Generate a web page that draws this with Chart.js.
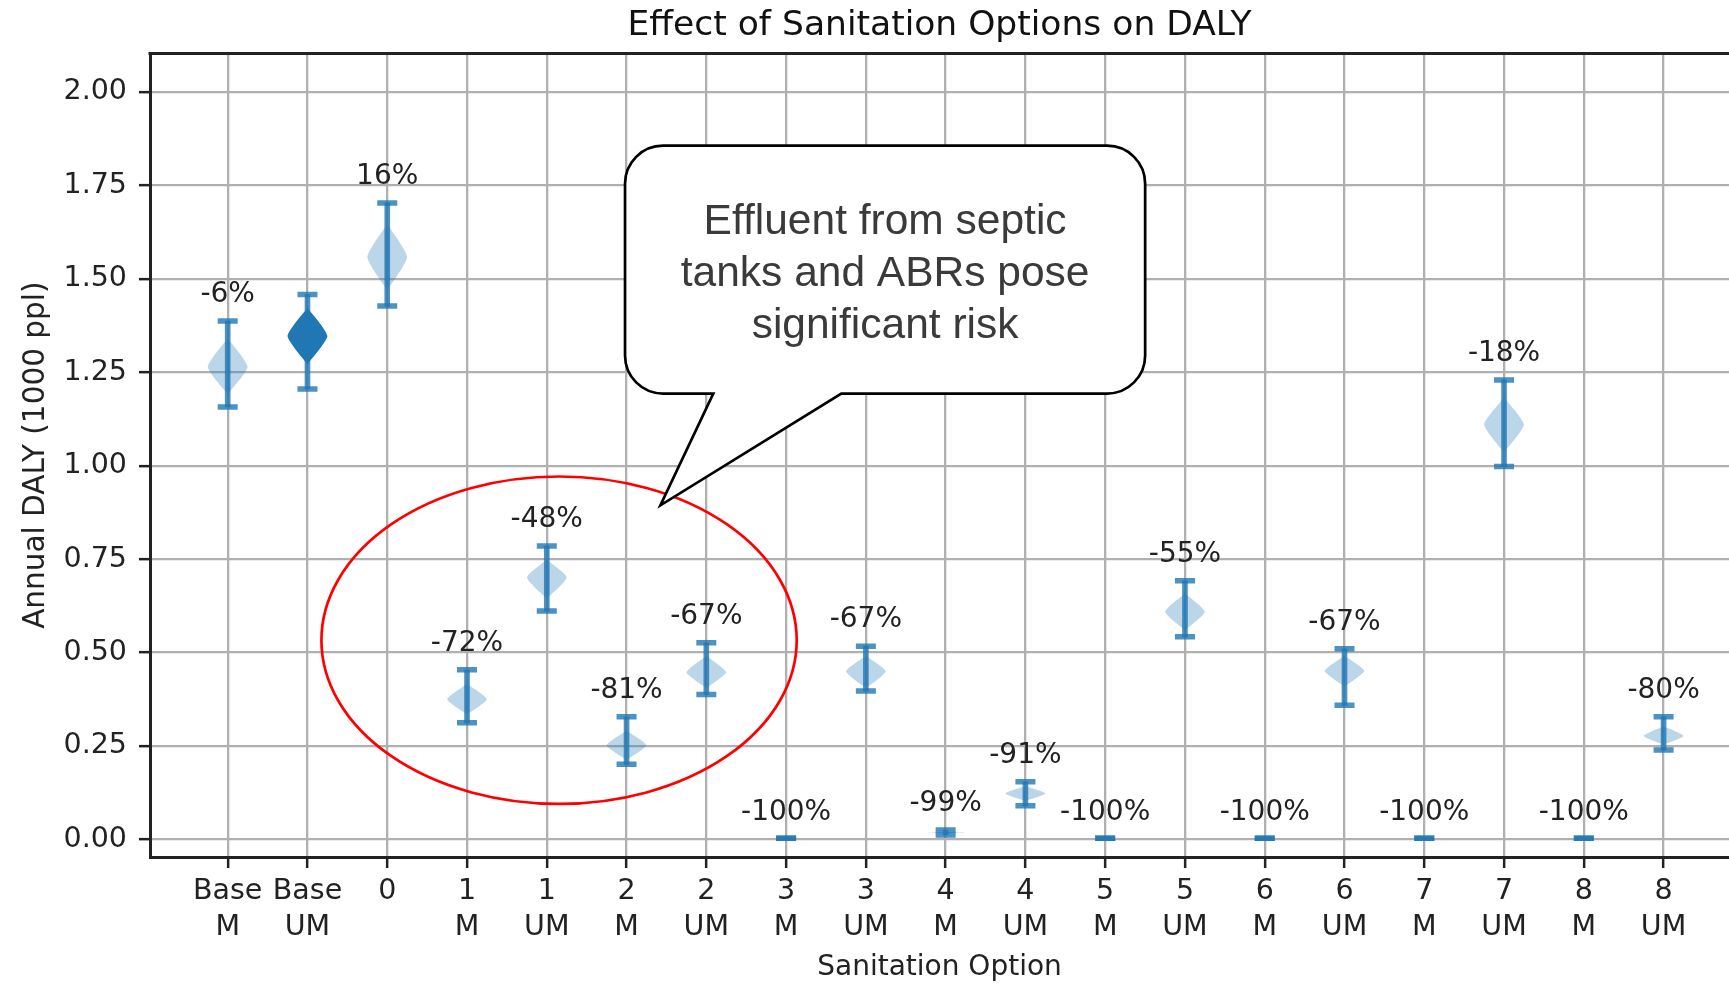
<!DOCTYPE html>
<html>
<head>
<meta charset="utf-8">
<title>Effect of Sanitation Options on DALY</title>
<script src="https://cdn.jsdelivr.net/npm/chart.js@4.4.0/dist/chart.umd.min.js"></script>
<style>
  html, body { margin: 0; padding: 0; background: #fff; overflow: hidden; }
  #wrap { width: 1729px; height: 985px; }
</style>
</head>
<body>
<div id="wrap"><canvas id="chart" width="1729" height="985"></canvas></div>
<script>
// sanitation options, in plot order (x positions 1..19)
const categories = ['Base M', 'Base UM', '0', '1 M', '1 UM', '2 M', '2 UM', '3 M', '3 UM',
  '4 M', '4 UM', '5 M', '5 UM', '6 M', '6 UM', '7 M', '7 UM', '8 M', '8 UM'];
const positions = [1, 2, 3, 4, 5, 6, 7, 8, 9, 10, 11, 12, 13, 14, 15, 16, 17, 18, 19];

// annual DALY (1000 ppl): whisker ends
const dalyMin = [1.157, 1.205, 1.427, 0.312, 0.611, 0.201, 0.388, 0.003, 0.397, 0.012,
  0.090, 0.003, 0.542, 0.003, 0.359, 0.003, 0.998, 0.003, 0.239];
const dalyMax = [1.387, 1.458, 1.703, 0.454, 0.785, 0.328, 0.526, 0.003, 0.517, 0.025,
  0.154, 0.003, 0.692, 0.003, 0.510, 0.003, 1.229, 0.003, 0.328];

// violin body: visible low end, widest point, visible high end (null = no body)
const violinLow = [1.192, 1.272, 1.470, 0.335, 0.645, 0.213, 0.405, null, 0.405, 0.016,
  0.103, null, 0.560, null, 0.409, null, 1.036, null, 0.254];
const violinPeak = [1.264, 1.347, 1.558, 0.375, 0.701, 0.252, 0.447, null, 0.450, 0.018,
  0.123, null, 0.609, null, 0.451, null, 1.110, null, 0.277];
const violinHigh = [1.340, 1.422, 1.646, 0.416, 0.748, 0.291, 0.491, null, 0.491, 0.020,
  0.143, null, 0.658, null, 0.491, null, 1.182, null, 0.303];

// change against the base case
const changeLabels = ['-6%', '', '16%', '-72%', '-48%', '-81%', '-67%', '-100%', '-67%', '-99%',
  '-91%', '-100%', '-55%', '-100%', '-67%', '-100%', '-18%', '-100%', '-80%'];

const yTicks = [0, 0.25, 0.5, 0.75, 1.0, 1.25, 1.5, 1.75, 2.0];

const calloutLines = ['Effluent from septic', 'tanks and ABRs pose', 'significant risk'];

const FONT = '"DejaVu Sans", sans-serif';
const TEXT = '#222';
const WHISKER = 'rgba(31,119,180,0.8)';

// violin bodies, drawn under the whiskers
const violinPlugin = {
  id: 'violins',
  beforeDatasetsDraw(chart) {
    const { ctx, scales: { x, y } } = chart;
    ctx.save();
    positions.forEach((pos, i) => {
      if (violinLow[i] === null) return;
      const cx = x.getPixelForValue(pos);
      const hw = x.getPixelForValue(pos + 0.25) - cx;
      const top = y.getPixelForValue(violinHigh[i]);
      const mid = y.getPixelForValue(violinPeak[i]);
      const bot = y.getPixelForValue(violinLow[i]);
      const d1 = mid - top, d2 = bot - mid;
      ctx.beginPath();
      ctx.moveTo(cx, top);
      ctx.bezierCurveTo(cx + hw * 0.35, top + d1 * 0.3, cx + hw * 0.95, mid - d1 * 0.2, cx + hw, mid);
      ctx.bezierCurveTo(cx + hw * 0.95, mid + d2 * 0.2, cx + hw * 0.35, bot - d2 * 0.3, cx, bot);
      ctx.bezierCurveTo(cx - hw * 0.35, bot - d2 * 0.3, cx - hw * 0.95, mid + d2 * 0.2, cx - hw, mid);
      ctx.bezierCurveTo(cx - hw * 0.95, mid - d1 * 0.2, cx - hw * 0.35, top + d1 * 0.3, cx, top);
      ctx.closePath();
      ctx.fillStyle = i === 1 ? 'rgb(31,119,180)' : 'rgba(31,119,180,0.3)';
      ctx.fill();
    });
    ctx.restore();
  }
};

// % labels over each option, top spine, and the callout annotations
const overlayPlugin = {
  id: 'overlay',
  afterDraw(chart) {
    const { ctx, chartArea: area, scales: { x, y } } = chart;
    ctx.save();

    ctx.font = '28px ' + FONT;
    ctx.fillStyle = TEXT;
    ctx.textAlign = 'center';
    ctx.textBaseline = 'middle';
    changeLabels.forEach((t, i) => {
      if (!t) return;
      ctx.fillText(t, x.getPixelForValue(positions[i]), y.getPixelForValue(dalyMax[i]) - 26);
    });

    ctx.strokeStyle = '#222';
    ctx.lineWidth = 3;
    ctx.beginPath();
    ctx.moveTo(area.left - 1.5, area.top);
    ctx.lineTo(area.right, area.top);
    ctx.stroke();

    // red ellipse round options 1 and 2
    ctx.strokeStyle = '#ff0000';
    ctx.lineWidth = 2.7;
    ctx.beginPath();
    ctx.ellipse(x.getPixelForValue(5.154), y.getPixelForValue(0.533),
      x.getPixelForValue(5.154 + 2.979) - x.getPixelForValue(5.154),
      y.getPixelForValue(0) - y.getPixelForValue(0.438), 0, 0, Math.PI * 2);
    ctx.stroke();

    // speech bubble
    const L = x.getPixelForValue(5.981), R = x.getPixelForValue(12.501);
    const T = y.getPixelForValue(1.856), B = y.getPixelForValue(1.193);
    const tailL = x.getPixelForValue(7.087), tailR = x.getPixelForValue(8.692);
    const tipX = x.getPixelForValue(6.425), tipY = y.getPixelForValue(0.894);
    const r = 38;
    ctx.beginPath();
    ctx.moveTo(L + r, T);
    ctx.lineTo(R - r, T);
    ctx.arcTo(R, T, R, T + r, r);
    ctx.lineTo(R, B - r);
    ctx.arcTo(R, B, R - r, B, r);
    ctx.lineTo(tailR, B);
    ctx.lineTo(tipX, tipY);
    ctx.lineTo(tailL, B);
    ctx.lineTo(L + r, B);
    ctx.arcTo(L, B, L, B - r, r);
    ctx.lineTo(L, T + r);
    ctx.arcTo(L, T, L + r, T, r);
    ctx.closePath();
    ctx.fillStyle = '#fff';
    ctx.fill();
    ctx.strokeStyle = '#000';
    ctx.lineWidth = 2.7;
    ctx.lineJoin = 'miter';
    ctx.stroke();

    ctx.font = '42.5px "Liberation Sans", Arial, sans-serif';
    ctx.fillStyle = '#3a3a3a';
    const midY = (T + B) / 2 + 5;
    calloutLines.forEach((line, k) => {
      ctx.fillText(line, (L + R) / 2, midY + (k - 1) * 52);
    });
    ctx.restore();
  }
};

new Chart(document.getElementById('chart'), {
  type: 'bar',
  data: {
    datasets: [
      {
        type: 'bar',
        data: positions.map((p, i) => ({ x: p, y: [dalyMin[i], dalyMax[i]] })),
        backgroundColor: WHISKER,
        barThickness: 5,
        grouped: false
      },
      {
        type: 'line',
        data: positions.map((p, i) => ({ x: p, y: dalyMin[i] })),
        showLine: false,
        pointStyle: 'line',
        pointRadius: 10,
        pointBorderWidth: 5.5,
        pointBorderColor: WHISKER,
        pointBackgroundColor: WHISKER
      },
      {
        type: 'line',
        data: positions.map((p, i) => ({ x: p, y: dalyMax[i] })),
        showLine: false,
        pointStyle: 'line',
        pointRadius: 10,
        pointBorderWidth: 5.5,
        pointBorderColor: WHISKER,
        pointBackgroundColor: WHISKER
      }
    ]
  },
  options: {
    responsive: false,
    animation: false,
    events: [],
    layout: { padding: 0, autoPadding: false },
    plugins: {
      legend: { display: false },
      tooltip: { enabled: false },
      title: {
        display: true,
        fullSize: false,
        text: 'Effect of Sanitation Options on DALY',
        color: '#111',
        font: { family: FONT, size: 34.5, weight: 'normal', lineHeight: 1.2 },
        padding: { top: 5, bottom: 7 }
      }
    },
    scales: {
      x: {
        type: 'linear',
        min: 0.026,
        max: 19.82,
        offset: false,
        afterFit: s => { s.height = 128; },
        afterBuildTicks: s => { s.ticks = positions.map(v => ({ value: v })); },
        ticks: {
          callback: (v, i) => categories[i].split(' '),
          color: TEXT,
          font: { family: FONT, size: 28.5, lineHeight: 1.27 },
          padding: 5,
          maxRotation: 0,
          autoSkip: false
        },
        grid: { offset: false, color: '#b0b0b0', lineWidth: 2.3, tickLength: 11, tickColor: '#222', tickWidth: 2.5 },
        border: { color: '#222', width: 3 },
        title: {
          display: true,
          text: 'Sanitation Option',
          color: TEXT,
          font: { family: FONT, size: 28, lineHeight: 1.2 },
          padding: { top: 0, bottom: 0 }
        }
      },
      y: {
        min: -0.047,
        max: 2.103,
        afterFit: s => { s.width = 150; },
        afterBuildTicks: s => { s.ticks = yTicks.map(v => ({ value: v })); },
        ticks: {
          callback: v => v.toFixed(2),
          color: TEXT,
          font: { family: FONT, size: 28.5 },
          padding: 12
        },
        grid: { color: '#b0b0b0', lineWidth: 2.3, tickLength: 11, tickColor: '#222', tickWidth: 2.5 },
        border: { color: '#222', width: 3 },
        title: {
          display: true,
          text: 'Annual DALY (1000 ppl)',
          color: TEXT,
          font: { family: FONT, size: 29.5, lineHeight: 1.2 },
          padding: { top: 19, bottom: 0 }
        }
      }
    }
  },
  plugins: [violinPlugin, overlayPlugin]
});
</script>
</body>
</html>
